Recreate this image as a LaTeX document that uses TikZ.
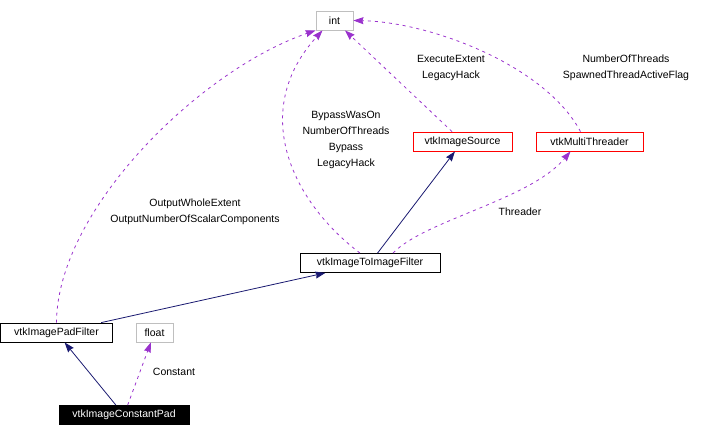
\documentclass[tikz,border=0pt]{standalone}
\usepackage{fontspec}
\setmainfont{Liberation Sans}
\usetikzlibrary{arrows.meta, positioning}
\definecolor{inhblue}{RGB}{25,25,112}
\definecolor{usepurple}{RGB}{154,50,205}
\definecolor{extgray}{RGB}{191,191,191}

\begin{document}
\begin{tikzpicture}[x=1pt, y=-1pt,
  every node/.style={font=\fontsize{10.5}{16}\selectfont, inner sep=0pt},
  cls/.style={draw, line width=0.8pt, minimum height=19pt},
  lbl/.style={align=center},
  inh/.style={draw=inhblue, line width=0.8pt, -{Stealth[length=10pt, width=7pt, inset=1pt]}},
  usage/.style={draw=usepurple, line width=0.8pt, dash pattern=on 3pt off 4pt,
                -{Stealth[length=10pt, width=7pt, inset=1pt]}, fill=none}]
\useasboundingbox (0,0) rectangle (721,437);
% Nodes
\node[cls, draw=extgray, minimum width=37pt] (int) at (334.5,20.5) {int};
\node[cls, draw=red, minimum width=99pt] (source) at (462.5,141.5) {vtkImageSource};
\node[cls, draw=red, minimum width=107pt] (threader) at (589.5,141.5) {vtkMultiThreader};
\node[cls, minimum width=140pt] (toimage) at (370,263) {vtkImageToImageFilter};
\node[cls, minimum width=112pt] (pad) at (56.5,332.5) {vtkImagePadFilter};
\node[cls, draw=extgray, minimum width=37pt] (float) at (154.5,332.5) {float};
\node[cls, fill=black, text=white, minimum width=130pt] (constpad) at (124,415) {vtkImageConstantPad};
% Labels
\node[lbl] (lconst) at (174,372) {Constant};
\node[lbl] (lthr) at (520,212) {Threader};
\node[lbl] (lpad) at (195,211.5) {OutputWholeExtent\\OutputNumberOfScalarComponents};
\node[lbl] (ltoimage) at (346,140) {BypassWasOn\\NumberOfThreads\\Bypass\\LegacyHack};
\node[lbl] (lsource) at (451,68) {ExecuteExtent\\LegacyHack};
\node[lbl] (lthreads) at (626,68) {NumberOfThreads\\SpawnedThreadActiveFlag};
% Arrows
\draw[inh] (constpad) -- (pad);
\draw[inh] (pad) -- (toimage);
\draw[inh] (toimage) -- (source);
\draw[usage] (constpad) -- (float);
\draw[usage] (source) -- (int);
\draw[usage] ([xshift=-10pt]toimage.north) .. controls (290,200) and (250,110) .. ([xshift=-12pt]int.south);
\draw[usage] (pad.north) .. controls (57,210) and (200,70) .. (int.south west);
\draw[usage] ([xshift=23pt]toimage.north) .. controls (425,220) and (530,200) .. ([xshift=-19pt]threader.south);
\draw[usage] ([xshift=-9pt]threader.north) .. controls (545,65) and (430,22) .. (int.east);
\end{tikzpicture}
\end{document}
